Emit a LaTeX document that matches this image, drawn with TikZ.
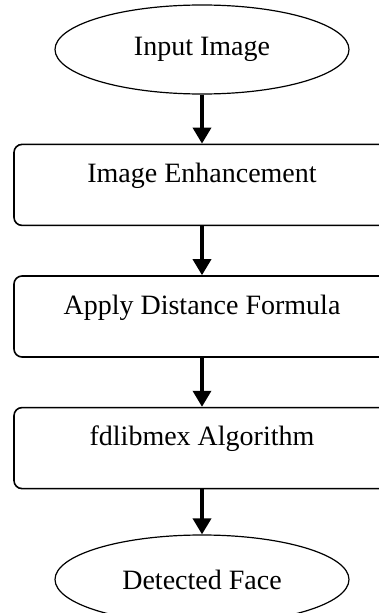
\documentclass[tikz,border=0pt]{standalone}
\usepackage{fontspec}
\setmainfont{Liberation Serif}
\usepackage{tikz}
\usetikzlibrary{shapes.geometric, arrows.meta, positioning}

\begin{document}
\begin{tikzpicture}[
  x=1pt, y=1pt,
  node distance=49pt,
  term/.style={draw, ellipse, line width=1.2pt, minimum width=294pt,
    minimum height=89pt, inner sep=0pt, font=\fontsize{28}{32}\selectfont},
  box/.style={draw, rounded corners=8pt, line width=1.6pt, minimum width=376pt,
    inner sep=0pt, text height=38pt, text depth=43pt, align=center,
    font=\fontsize{28}{32}\selectfont},
  arr/.style={-{Triangle[width=18pt,length=16pt]}, line width=3.5pt}
]
  \clip (0,0) rectangle (379,-613);

  \node[term] (input) at (202,-49.5) {Input Image};
  \node[box, below=of input] (enh) {Image Enhancement};
  \node[box, below=of enh] (dist) {Apply Distance Formula};
  \node[box, below=of dist] (fdl) {fdlibmex Algorithm};
  \node[term, below=45pt of fdl] (face) {Detected Face};

  \draw[arr] (input) -- (enh);
  \draw[arr] (enh) -- (dist);
  \draw[arr] (dist) -- (fdl);
  \draw[arr] (fdl) -- (face);
\end{tikzpicture}
\end{document}
